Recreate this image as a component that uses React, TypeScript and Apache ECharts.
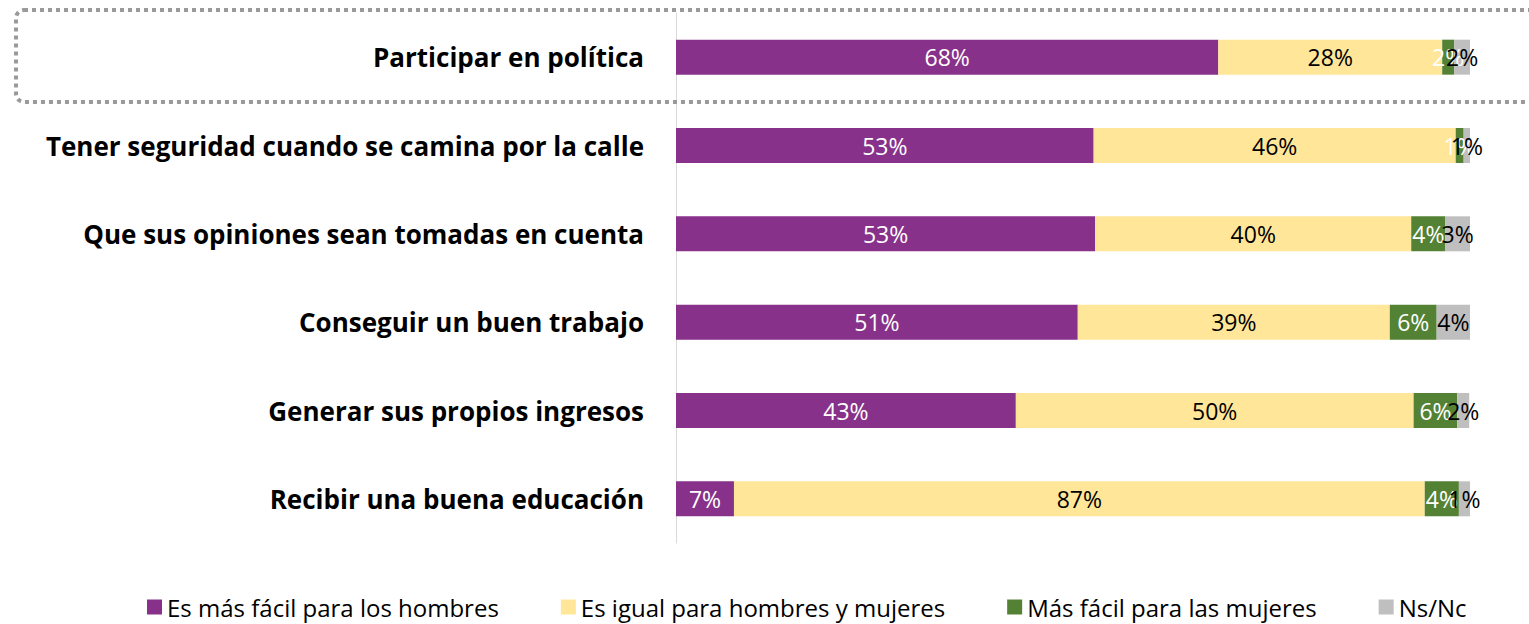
import React, { useEffect, useRef } from "react";
import * as echarts from "echarts";

const categories = [
  "Participar en política",
  "Tener seguridad cuando se camina por la calle",
  "Que sus opiniones sean tomadas en cuenta",
  "Conseguir un buen trabajo",
  "Generar sus propios ingresos",
  "Recibir una buena educación",
];
const seriesNames = [
  "Es más fácil para los hombres",
  "Es igual para hombres y mujeres",
  "Más fácil para las mujeres",
  "Ns/Nc",
];
const hombres = [68.3, 52.6, 52.8, 50.6, 42.8, 7.3];
const igual = [28.2, 45.6, 39.8, 39.3, 50.1, 87.0];
const mujeres = [1.5, 1.0, 4.3, 5.9, 5.5, 4.3];
const nsnc = [2.0, 0.8, 3.1, 4.2, 1.5, 1.4];

const colors = ["#87318A", "#FFE699", "#548235", "#BFBFBF"];
const labelColors = ["#ffffff", "#000000", "#ffffff", "#000000"];
const FONT = "'Open Sans', 'Noto Sans', sans-serif";

export default function App() {
  const ref = useRef<HTMLDivElement>(null);
  useEffect(() => {
    if (!ref.current) return;
    const chart = echarts.init(ref.current, null, { renderer: "svg" });
    const data = [hombres, igual, mujeres, nsnc];
    chart.setOption({
      animation: false,
      textStyle: { fontFamily: FONT },
      grid: { left: 676, right: 59, top: 13, bottom: 81, containLabel: false },
      xAxis: { type: "value", min: 0, max: 100, show: false },
      yAxis: {
        type: "category",
        data: categories,
        inverse: true,
        axisLine: { show: true, lineStyle: { color: "#D9D9D9", width: 1 } },
        axisTick: { show: false },
        axisLabel: {
          color: "#000",
          fontWeight: "bold",
          fontSize: 26,
          fontFamily: FONT,
          margin: 32,
        },
      },
      legend: {
        left: 147,
        top: 594,
        padding: 0,
        itemWidth: 15,
        itemHeight: 15,
        itemGap: 62,
        icon: "rect",
        textStyle: { fontSize: 24, color: "#000", fontFamily: FONT, lineHeight: 26 },
        data: seriesNames,
      },
      graphic: [
        {
          type: "rect",
          shape: { x: 16, y: 10, width: 1540, height: 92, r: 8 },
          style: { fill: "none", stroke: "#9A9A9A", lineWidth: 4, lineDash: [4, 4] },
          z: 10,
        },
      ],
      series: seriesNames.map((name, i) => ({
        name,
        type: "bar",
        stack: "total",
        barWidth: 35,
        data: data[i],
        itemStyle: { color: colors[i] },
        label: {
          show: true,
          position: "inside",
          color: labelColors[i],
          fontSize: 23,
          fontFamily: FONT,
          formatter: (p: any) => Math.round(p.value) + "%",
        },
      })),
    });
    return () => chart.dispose();
  }, []);
  return (
    <div
      ref={ref}
      style={{ position: "fixed", left: 0, top: 0, width: 1529, height: 624, background: "#fff" }}
    />
  );
}
